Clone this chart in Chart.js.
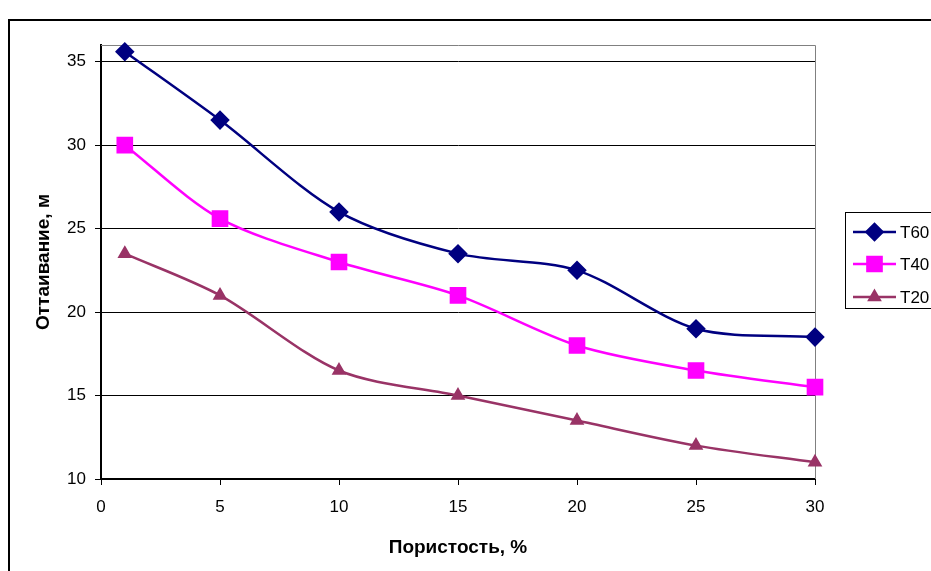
<!DOCTYPE html>
<html>
<head>
<meta charset="utf-8">
<script src="https://cdn.jsdelivr.net/npm/chart.js@4.4.1/dist/chart.umd.min.js"></script>
<style>
  html, body { margin: 0; padding: 0; background: #fff; }
  #wrap { width: 931px; height: 571px; position: relative; }
</style>
</head>
<body>
<div id="wrap"><canvas id="chart"></canvas></div>
<script>
// data
const porosity = [1, 5, 10, 15, 20, 25, 30];
const t60 = [35.6, 31.5, 26, 23.5, 22.5, 19, 18.5];
const t40 = [30, 25.6, 23, 21, 18, 16.5, 15.5];
const t20 = [23.5, 21, 16.5, 15, 13.5, 12, 11];
const yTicks = [10, 15, 20, 25, 30, 35];
const xTicks = [0, 5, 10, 15, 20, 25, 30];

const FONT = "'Liberation Sans', Arial, sans-serif";

function toPoints(values) {
  return porosity.map((x, i) => ({ x: x, y: values[i] }));
}

// frame round the whole chart, grey top/right edge of plot area, legend box
const framePlugin = {
  id: "frame",
  beforeDraw(chart) {
    const ctx = chart.ctx;
    ctx.save();
    ctx.strokeStyle = "#000";
    ctx.lineWidth = 2;
    ctx.strokeRect(9, 20, 1000, 600);
    ctx.restore();
  },
  beforeDatasetsDraw(chart) {
    const { ctx, chartArea: a } = chart;
    ctx.save();
    ctx.strokeStyle = "#808080";
    ctx.lineWidth = 1;
    ctx.beginPath();
    ctx.moveTo(a.left, a.top + 0.5);
    ctx.lineTo(a.right + 0.5, a.top + 0.5);
    ctx.lineTo(a.right + 0.5, a.bottom);
    ctx.stroke();
    ctx.restore();
  },
  afterDraw(chart) {
    const ctx = chart.ctx;
    ctx.save();
    ctx.fillStyle = "#fff";
    ctx.strokeStyle = "#000";
    ctx.lineWidth = 1;
    ctx.fillRect(845.5, 212.5, 120, 96);
    ctx.strokeRect(845.5, 212.5, 120, 96);
    const rows = [232, 264, 297];
    chart.data.datasets.forEach((ds, i) => {
      const y = rows[i];
      ctx.strokeStyle = ds.borderColor;
      ctx.lineWidth = 2.5;
      ctx.beginPath();
      ctx.moveTo(853, y);
      ctx.lineTo(896, y);
      ctx.stroke();
      Chart.helpers.drawPoint(ctx, {
        pointStyle: ds.pointStyle,
        radius: ds.pointRadius,
        rotation: 0,
        borderWidth: 1
      }, 874.5, y);
      ctx.fillStyle = ds.pointBackgroundColor;
      ctx.strokeStyle = ds.pointBorderColor;
      ctx.fill();
      ctx.fillStyle = "#000";
      ctx.font = "17px " + FONT;
      ctx.textBaseline = "middle";
      ctx.fillText(ds.label, 900, y + 1);
    });
    ctx.restore();
  }
};

function series(label, values, color, style, radius) {
  return {
    label: label,
    data: toPoints(values),
    borderColor: color,
    backgroundColor: color,
    pointBackgroundColor: color,
    pointBorderColor: color,
    pointStyle: style,
    pointRadius: radius,
    pointHoverRadius: radius,
    borderWidth: 2.5,
    tension: 0.3,
    clip: false
  };
}

new Chart(document.getElementById("chart"), {
  type: "line",
  data: {
    datasets: [
      series("T60", t60, "#000080", "rectRot", 8),
      series("T40", t40, "#FF00FF", "rect", 10),
      series("T20", t20, "#993366", "triangle", 6)
    ]
  },
  options: {
    responsive: true,
    maintainAspectRatio: false,
    animation: false,
    events: [],
    layout: { padding: { left: 0, top: 45, right: 116, bottom: 0 } },
    plugins: {
      legend: { display: false },
      tooltip: { enabled: false }
    },
    scales: {
      x: {
        type: "linear",
        min: 0,
        max: 30,
        afterBuildTicks: (axis) => { axis.ticks = xTicks.map(v => ({ value: v })); },
        afterFit: (scale) => { scale.height = 92; },
        grid: { drawOnChartArea: false, color: "#000", tickLength: 6, tickColor: "#000" },
        border: { color: "#000", width: 2 },
        ticks: { color: "#000", font: { family: FONT, size: 17 }, padding: 12, maxRotation: 0 },
        title: {
          display: true,
          text: "Пористость, %",
          color: "#000",
          font: { family: FONT, size: 19, weight: "bold" },
          padding: { top: 0, bottom: 11.6 }
        }
      },
      y: {
        min: 10,
        max: 36,
        afterBuildTicks: (axis) => { axis.ticks = yTicks.map(v => ({ value: v })); },
        afterFit: (scale) => { scale.width = 101; },
        grid: { color: "#000", lineWidth: 1, tickLength: 6, tickColor: "#000" },
        border: { color: "#000", width: 2 },
        ticks: { color: "#000", font: { family: FONT, size: 17 }, padding: 9 },
        title: {
          display: true,
          text: "Оттаивание, м",
          color: "#000",
          font: { family: FONT, size: 19, weight: "bold" },
          padding: { top: 32.6, bottom: 0 }
        }
      }
    }
  },
  plugins: [framePlugin]
});
</script>
</body>
</html>
